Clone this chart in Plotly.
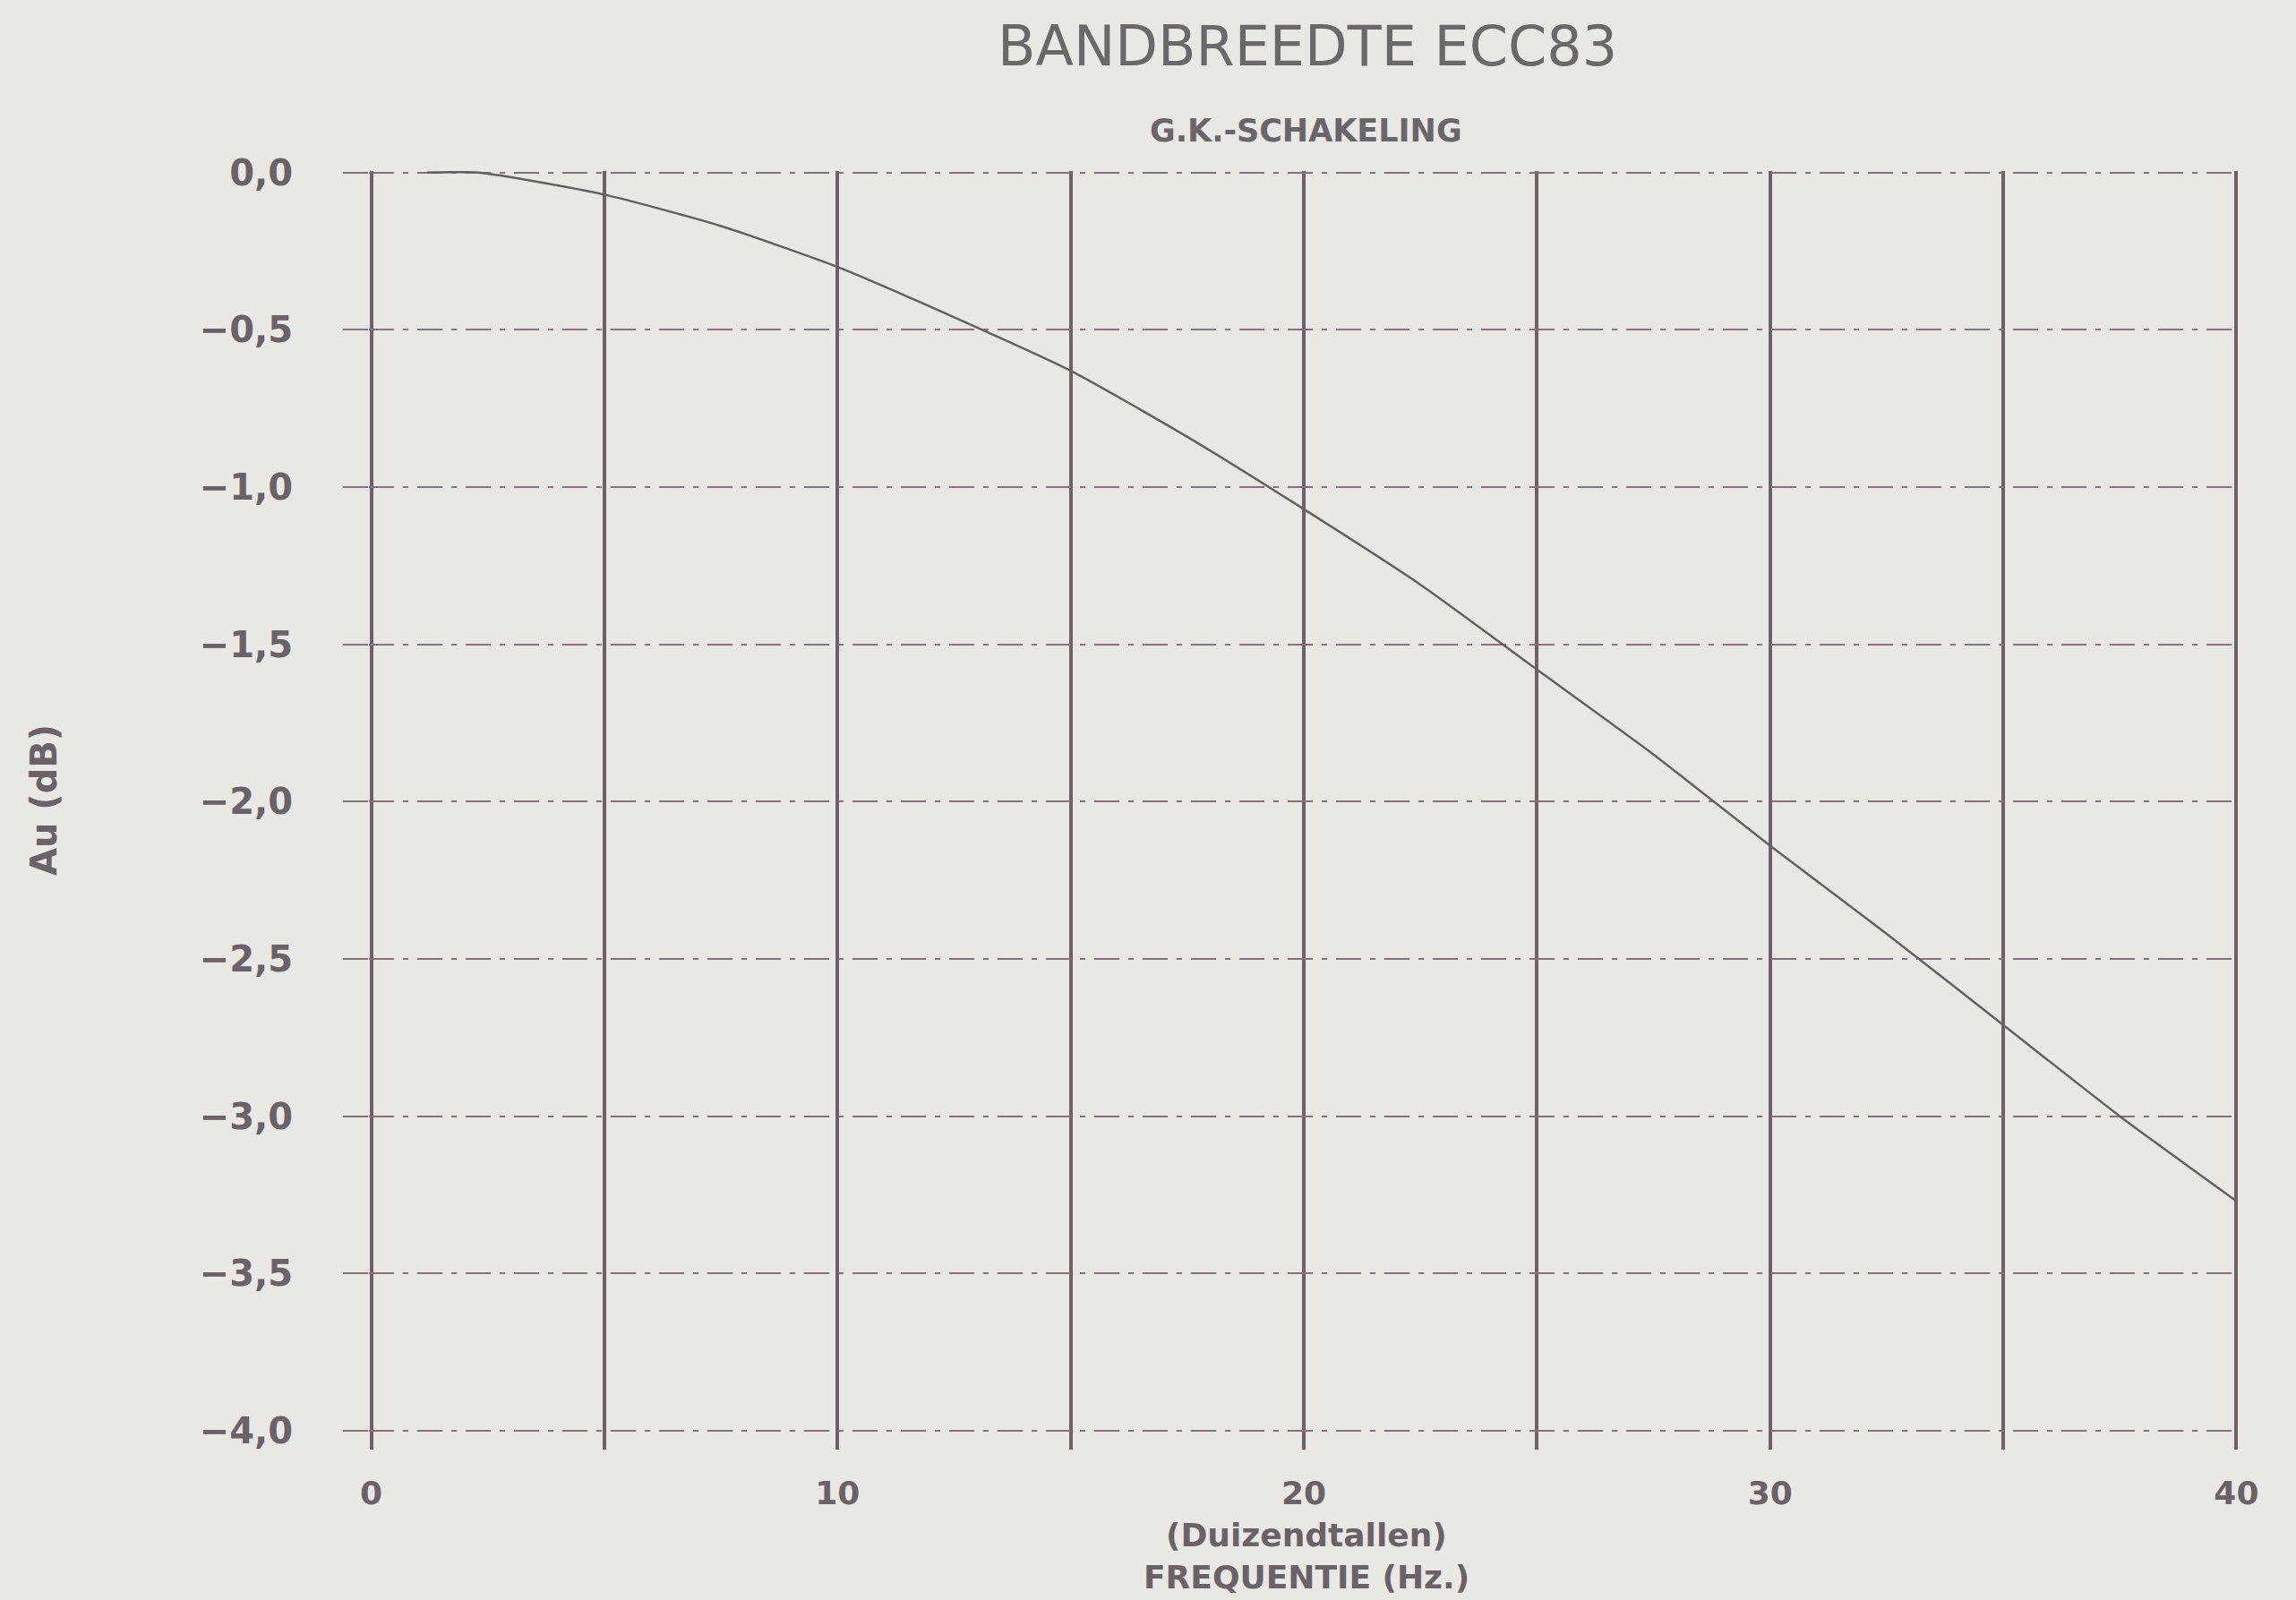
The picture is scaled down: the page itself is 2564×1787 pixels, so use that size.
import plotly.graph_objects as go

# Data
freq_khz = [1.2, 2.3, 5, 7.5, 10, 12.5, 15, 17.5, 20, 22.5, 25, 27.5, 30, 32.5, 35, 37.5, 40]
gain_db = [0.00, 0.00, -0.07, -0.17, -0.30, -0.46, -0.63, -0.84, -1.07, -1.31, -1.58, -1.85, -2.14, -2.42, -2.71, -3.00, -3.27]

x_tickvals = [0, 5, 10, 15, 20, 25, 30, 35, 40]
x_ticktext = ["0", "", "10", "", "20", "", "30", "", "40"]
y_tickvals = [0.0, -0.5, -1.0, -1.5, -2.0, -2.5, -3.0, -3.5, -4.0]
y_ticktext = ["0,0", "−0,5", "−1,0", "−1,5", "−2,0", "−2,5", "−3,0", "−3,5", "−4,0"]

title_text = "BANDBREEDTE ECC83"
subtitle_text = "G.K.-SCHAKELING"
x_title_1 = "(Duizendtallen)"
x_title_2 = "FREQUENTIE (Hz.)"
y_title = "Au (dB)"

BG = "#e8e8e5"
INK = "#6a6266"
GRID_V = "#71606a"
GRID_H = "#86707a"
FONT = "DejaVu Sans"

W, H = 2564, 1787
ML, MR, MT, MB = 412, 64, 191, 168

fig = go.Figure()
fig.add_trace(go.Scatter(
    x=freq_khz, y=gain_db, mode="lines",
    line=dict(color="#626262", width=2.5, shape="spline", smoothing=0.6),
    showlegend=False, hoverinfo="skip",
))

fig.update_layout(
    width=W, height=H,
    paper_bgcolor=BG, plot_bgcolor=BG,
    margin=dict(l=ML, r=MR, t=MT, b=MB),
    showlegend=False,
    font=dict(family=FONT, color=INK),
)

fig.update_xaxes(
    range=[-0.05, 40.05],
    tickmode="array", tickvals=x_tickvals, ticktext=x_ticktext,
    showgrid=True, gridcolor=GRID_V, gridwidth=4,
    zeroline=False, showline=False,
    ticks="", ticklabelstandoff=24,
    tickfont=dict(family=FONT, size=36, color=INK, weight="bold"),
)
fig.update_yaxes(
    range=[-4.06, 0.005],
    tickmode="array", tickvals=y_tickvals, ticktext=y_ticktext,
    showgrid=True, gridcolor=GRID_H, gridwidth=2, griddash="28px,10px,6px,10px",
    zeroline=False, showline=False,
    ticks="outside", ticklen=28, tickwidth=2, tickcolor=GRID_H,
    ticklabelstandoff=48,
    tickfont=dict(family=FONT, size=40, color=INK, weight="bold"),
)


def px_to_paper(px, py):
    return (px - ML) / (W - ML - MR), 1 - (py - MT) / (H - MT - MB)


annos = [
    dict(text=title_text, x=1460, y=52, size=62, weight="normal", color="#6a6869"),
    dict(text=subtitle_text, x=1458, y=146, size=35, weight="bold", color="#6a6568"),
    dict(text=x_title_1, x=1459, y=1714, size=36, weight="bold", color=INK),
    dict(text=x_title_2, x=1459, y=1761, size=36, weight="bold", color=INK),
]
for a in annos:
    ax, ay = px_to_paper(a["x"], a["y"])
    fig.add_annotation(
        text=a["text"], xref="paper", yref="paper", x=ax, y=ay,
        xanchor="center", yanchor="middle", showarrow=False,
        font=dict(family=FONT, size=a["size"], color=a["color"], weight=a["weight"]),
    )

ax, ay = px_to_paper(49, 894)
fig.add_annotation(
    text=y_title, xref="paper", yref="paper", x=ax, y=ay,
    xanchor="center", yanchor="middle", showarrow=False, textangle=-90,
    font=dict(family=FONT, size=40, color=INK, weight="bold"),
)

fig.write_html("out.html", config={"displayModeBar": False},
               post_script="document.body.style.margin='0';")
